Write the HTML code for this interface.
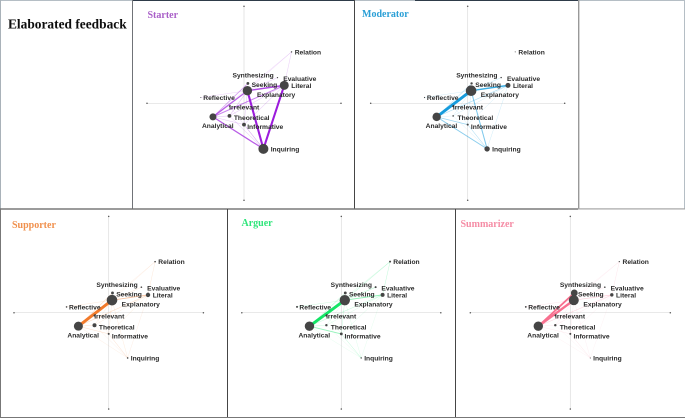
<!DOCTYPE html>
<html lang="en">
<head>
<meta charset="utf-8">
<title>Elaborated feedback network plots</title>
<style>
html,body{margin:0;padding:0;background:#fff;width:685px;height:418px;overflow:hidden}
svg{display:block}
.lbl{font:bold 6.7px "Liberation Sans",sans-serif;fill:#2a2a2a}
.ttl{font:bold 10px "Liberation Serif",serif}
.head{font:bold 13.4px "Liberation Serif",serif;fill:#111}
</style>
</head>
<body>
<svg id="chart" xmlns="http://www.w3.org/2000/svg" width="685" height="418" viewBox="0 0 685 418">
<defs><filter id="soft" x="-5%" y="-5%" width="110%" height="110%"><feGaussianBlur stdDeviation="0.33"/></filter></defs>
<g id="root" filter="url(#soft)">
<rect x="0" y="0" width="133" height="1" fill="#b5bec5"/>
<rect x="133" y="0" width="222" height="1" fill="#2f3b4a"/>
<rect x="355" y="0" width="60" height="1" fill="#b5bec5"/>
<rect x="415" y="0" width="163" height="1" fill="#2f3b4a"/>
<rect x="578" y="0" width="107" height="1" fill="#b5bec5"/>
<rect x="0" y="0" width="1" height="209" fill="#a9b2b9"/>
<rect x="132" y="0" width="1" height="209" fill="#6f7378"/>
<rect x="354" y="0" width="1" height="209" fill="#444"/>
<rect x="578" y="0" width="1.4" height="209" fill="#999"/>
<rect x="684" y="0" width="1" height="209" fill="#b5bec5"/>
<rect x="0" y="208.3" width="578" height="1.4" fill="#707070"/>
<rect x="578" y="208.3" width="107" height="1.2" fill="#a5a5a5"/>
<rect x="0" y="209" width="1" height="209" fill="#777"/>
<rect x="227" y="209" width="1" height="209" fill="#444"/>
<rect x="455" y="209" width="1" height="209" fill="#444"/>
<rect x="0" y="417" width="685" height="1" fill="#777"/>
<text class="head" x="8" y="28.5">Elaborated feedback</text>
</g>
</svg>
<script>
// Shared node data (axis units, each axis runs -1..1)
var nodeNames = ['Relation','Synthesizing','Evaluative','Seeking','Literal','Explanatory','Reflective','Irrelevant','Analytical','Theoretical','Informative','Inquiring'];
var nodeX = [0.49,0.345,0.345,0.04,0.415,0.035,-0.445,-0.15,-0.32,-0.15,0,0.2];
var nodeY = [0.53,0.265,0.265,0.205,0.185,0.13,0.06,-0.03,-0.14,-0.13,-0.22,-0.47];

// Node magnitudes per role
var starterSizes = [0.7,0.4,0.6,1.4,4.5,4.7,0.5,0.6,3.5,1.9,1.9,5];
var moderatorSizes = [0.5,0.4,0.7,1.2,2.5,5.3,0.6,1,4.2,0.8,1,2.7];
var supporterSizes = [0.8,0.4,0.8,1.4,2.2,5.3,0.8,1,4.5,2,1,0.8];
var arguerSizes = [1,0.4,1,1.4,2,5.2,1,1,4.7,1.2,1.4,0.7];
var summarizerSizes = [0.6,0.4,0.8,3.4,1.7,5,0.9,0.8,4.7,1.2,1,0.5];

// Edge endpoints (node names)
var edgeFrom = ['Explanatory','Explanatory','Literal','Analytical','Analytical','Analytical','Relation','Relation','Relation','Analytical','Analytical','Explanatory','Explanatory','Informative','Theoretical','Analytical','Literal','Literal','Irrelevant','Reflective','Evaluative'];
var edgeTo = ['Literal','Inquiring','Inquiring','Inquiring','Explanatory','Literal','Explanatory','Literal','Analytical','Informative','Theoretical','Informative','Theoretical','Inquiring','Inquiring','Seeking','Theoretical','Informative','Inquiring','Explanatory','Explanatory'];

// Edge weights per role, aligned with edgeFrom/edgeTo
var starterEdges = [0.45,0.72,0.72,0.38,0.38,0.28,0.06,0.07,0.05,0.1,0.1,0.08,0.1,0.1,0.07,0.2,0.08,0.08,0.06,0.06,0.08];
var moderatorEdges = [0.45,0.28,0.06,0.25,1.05,0.14,0,0,0,0.2,0.04,0.06,0.05,0.08,0.04,0.1,0.05,0.05,0.04,0.05,0.08];
var supporterEdges = [0.22,0.04,0.03,0.03,1.05,0.1,0.03,0.05,0.03,0.08,0.08,0.05,0.05,0.03,0.03,0.1,0.04,0.04,0.03,0.05,0.07];
var arguerEdges = [0.24,0.03,0.02,0.02,1.05,0.08,0.08,0.08,0.04,0.22,0.06,0.07,0.04,0.04,0.02,0.1,0.04,0.04,0.03,0.06,0.1];
var summarizerEdges = [0.14,0.02,0.01,0.01,0.85,0.1,0.03,0.05,0.02,0.04,0.04,0.03,0.04,0.01,0.01,0.6,0.04,0.02,0.01,0.05,0.05];

// Panel titles
var panelTitles = ['Starter','Moderator','Supporter','Arguer','Summarizer'];
var panelSizes = [starterSizes,moderatorSizes,supporterSizes,arguerSizes,summarizerSizes];
var panelEdges = [starterEdges,moderatorEdges,supporterEdges,arguerEdges,summarizerEdges];

// Layout (styling only)
var frames = [
 {cx:244,cy:103.3,hx:97,hy:97,tx:147.5,ty:18,edge:'#9c1fdc',title:'#a95fc8'},
 {cx:467.7,cy:103.3,hx:97,hy:97,tx:362,ty:17,edge:'#139bdc',title:'#2a9fd6'},
 {cx:108.7,cy:312.7,hx:94.7,hy:96.3,tx:12,ty:228,edge:'#f27a2c',title:'#f0904d'},
 {cx:341.3,cy:312.7,hx:99.5,hy:96.3,tx:241.5,ty:226,edge:'#12e566',title:'#2fe57a'},
 {cx:570.3,cy:312.7,hx:100,hy:96.3,tx:460.5,ty:227,edge:'#f8708f',title:'#f58ca5'}
];
var labelLayout = {
 Relation:{dx:3.2,dy:0,r:false,a:'start'},
 Synthesizing:{dx:-3.7,dy:-2.7,r:false,a:'end'},
 Evaluative:{dx:5.8,dy:0.8,r:false,a:'start'},
 Seeking:{dx:3.7,dy:1,r:false,a:'start'},
 Literal:{dx:2.5,dy:0,r:true,a:'start'},
 Explanatory:{dx:9.6,dy:3.7,r:false,a:'start'},
 Reflective:{dx:2.4,dy:0,r:false,a:'start'},
 Irrelevant:{dx:-0.3,dy:0.7,r:false,a:'start'},
 Analytical:{dx:-11,dy:8.8,r:false,a:'start'},
 Theoretical:{dx:4.4,dy:1.7,r:false,a:'start'},
 Informative:{dx:3.2,dy:2,r:false,a:'start'},
 Inquiring:{dx:2.3,dy:0.3,r:true,a:'start'}
};
var NS = 'http://www.w3.org/2000/svg';
var root = document.getElementById('root');
function mk(tag, attrs, parent){
  var e = document.createElementNS(NS, tag);
  for (var k in attrs) e.setAttribute(k, attrs[k]);
  parent.appendChild(e);
  return e;
}
function scaleX(f, v){ return f.cx + v * f.hx; }
function scaleY(f, v){ return f.cy - v * f.hy; }

panelTitles.forEach(function(title, p){
  var f = frames[p];
  var slug = title.toLowerCase();
  var g = mk('g', {}, root);
  
  

  var xAxis = mk('line', {x1:scaleX(f,-1),x2:scaleX(f,1),y1:f.cy,y2:f.cy,stroke:'#dcdcdc','stroke-width':0.7}, g);
  
  
  var yAxis = mk('line', {x1:f.cx,x2:f.cx,y1:scaleY(f,1),y2:scaleY(f,-1),stroke:'#dcdcdc','stroke-width':0.7}, g);
  
  
  [[-1,0],[1,0],[0,1],[0,-1]].forEach(function(t){
    var tick = mk('circle', {cx:scaleX(f,t[0]),cy:scaleY(f,t[1]),r:0.75,fill:'#555'}, g);
    
    
  });

  panelEdges[p].forEach(function(w, i){
    if (w <= 0) return;
    var a = nodeNames.indexOf(edgeFrom[i]), b = nodeNames.indexOf(edgeTo[i]);
    var edge = mk('line', {
      x1:scaleX(f,nodeX[a]),y1:scaleY(f,nodeY[a]),
      x2:scaleX(f,nodeX[b]),y2:scaleY(f,nodeY[b]),
      stroke:f.edge,'stroke-width':0.35 + w * 2.4,
      'stroke-opacity':Math.min(1, 0.1 + w * 1.6),'stroke-linecap':'round'
    }, g);
    
    
  });

  nodeNames.forEach(function(name, i){
    var x = scaleX(f,nodeX[i]), y = scaleY(f,nodeY[i]), r = panelSizes[p][i];
    var node = mk('circle', {cx:x,cy:y,r:r,fill:'#444'}, g);
    
    
    var l = labelLayout[name];
    var text = mk('text', {
      'class':'lbl',
      x:x + l.dx + (l.r ? r : 0),
      y:y + l.dy + 2.4,
      'text-anchor':l.a
    }, g);
    text.textContent = name;
    
    
  });

  var t = mk('text', {'class':'ttl',x:f.tx,y:f.ty,fill:f.title}, g);
  t.textContent = title;
  
  
});
</script>
</body>
</html>
